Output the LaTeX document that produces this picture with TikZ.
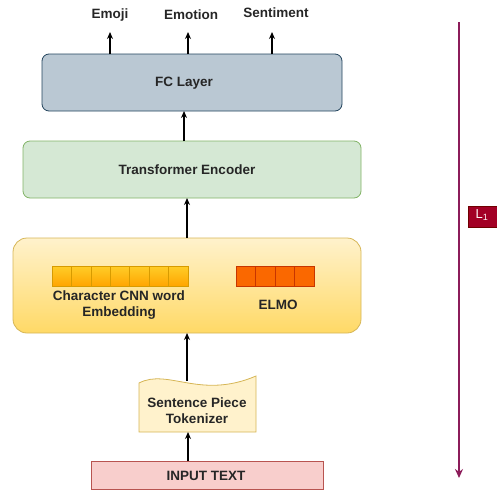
\documentclass[tikz,border=0pt]{standalone}
\usepackage{fontspec}
\setmainfont{Liberation Sans}
\usetikzlibrary{arrows.meta,positioning}
\definecolor{fcfill}{HTML}{BAC8D3}
\definecolor{fcline}{HTML}{23445D}
\definecolor{trfill}{HTML}{D5E8D4}
\definecolor{trline}{HTML}{82B366}
\definecolor{yelA}{HTML}{FFF2CC}
\definecolor{yelB}{HTML}{FFD966}
\definecolor{yelline}{HTML}{D6B656}
\definecolor{cellA}{HTML}{FFCD28}
\definecolor{cellB}{HTML}{FFA500}
\definecolor{cellline}{HTML}{D79B00}
\definecolor{elmofill}{HTML}{FA6800}
\definecolor{elmoline}{HTML}{C73500}
\definecolor{inpfill}{HTML}{F8CECC}
\definecolor{inpline}{HTML}{B85450}
\definecolor{lossline}{HTML}{8C1C5A}
\definecolor{lossfill}{HTML}{A20025}
\definecolor{lossedge}{HTML}{6F0000}
\tikzset{
  txt/.style={font=\bfseries\fontsize{13.5}{16}\selectfont, align=center, text=black!85},
  flow/.style={-{Stealth[length=7pt,width=6pt]}, line width=1.3pt, black},
  layerbox/.style={rounded corners=7pt, line width=0.8pt},
}
\begin{document}
\begin{tikzpicture}[x=1pt,y=-1pt]
\useasboundingbox (0,0) rectangle (497,490);

% FC layer and its three outputs
\draw[layerbox, fill=fcfill, draw=fcline] (42,54) rectangle (342,111);
\node[txt] (fc) at (184,83) {FC Layer};
\coordinate (fctop1) at (110,54);
\coordinate (fctop2) at (188,54);
\coordinate (fctop3) at (272,54);
\node[txt] (emoji) at (110,15) {Emoji};
\node[txt] (emotion) at (191,15) {Emotion};
\node[txt] (senti) at (276,13) {Sentiment};
\coordinate (o1) at (110,32);
\coordinate (o2) at (188,32);
\coordinate (o3) at (272,32);
\draw[flow] (fctop1) -- (o1);
\draw[flow] (fctop2) -- (o2);
\draw[flow] (fctop3) -- (o3);

% Transformer encoder
\draw[layerbox, fill=trfill, draw=trline] (23,141) rectangle (361,198);
\node[txt] (enc) at (187,170) {Transformer Encoder};
\draw[flow] (184,141) -- (184,111);

% Embedding block
\draw[rounded corners=14pt, line width=0.8pt, draw=yelline, top color=yelA, bottom color=yelB] (13,238) rectangle (361,333);
\draw[flow] (187,238) -- (187,198);

% Character CNN cells
\foreach \i in {0,...,6} {
  \draw[draw=cellline, line width=0.7pt, top color=cellA, bottom color=cellB]
    ({52+\i*19.43},266) rectangle ({52+(\i+1)*19.43},286);
}
\node[txt] (cnn) at (119,305) {Character CNN word\\Embedding};

% ELMO cells
\foreach \i in {0,...,3} {
  \draw[draw=elmoline, line width=0.7pt, fill=elmofill]
    ({236+\i*19.5},266) rectangle ({236+(\i+1)*19.5},286);
}
\node[txt] (elmo) at (278,305) {ELMO};

% Tokenizer (wavy-topped tape)
\draw[draw=yelline, line width=0.8pt, fill=yelA]
  (139,432) -- (139,383) .. controls (168,368) and (200,400) .. (256,376) -- (256,432) -- cycle;
\node[txt] (tok) at (197,411) {Sentence Piece\\Tokenizer};
\draw[flow] (187,381) -- (187,333);

% Input text
\draw[draw=inpline, line width=0.8pt, fill=inpfill] (91,461) rectangle (323,489);
\node[txt] (inp) at (206,476) {INPUT TEXT};
\draw[flow] (188,461) -- (188,432);

% Loss direction arrow and label
\coordinate (lt) at (459,22);
\coordinate (lb) at (459,478);
\draw[-{Stealth[length=9pt,width=8pt]}, line width=1.6pt, draw=lossline] (lt) -- (lb);
\draw[fill=lossfill, draw=lossedge, line width=0.6pt] (468,206) rectangle (497,227);
\node[text=white!85!pink, font=\fontsize{13}{14}\selectfont] (loss) at (482,215) {L\textsubscript{1}};
\end{tikzpicture}
\end{document}
